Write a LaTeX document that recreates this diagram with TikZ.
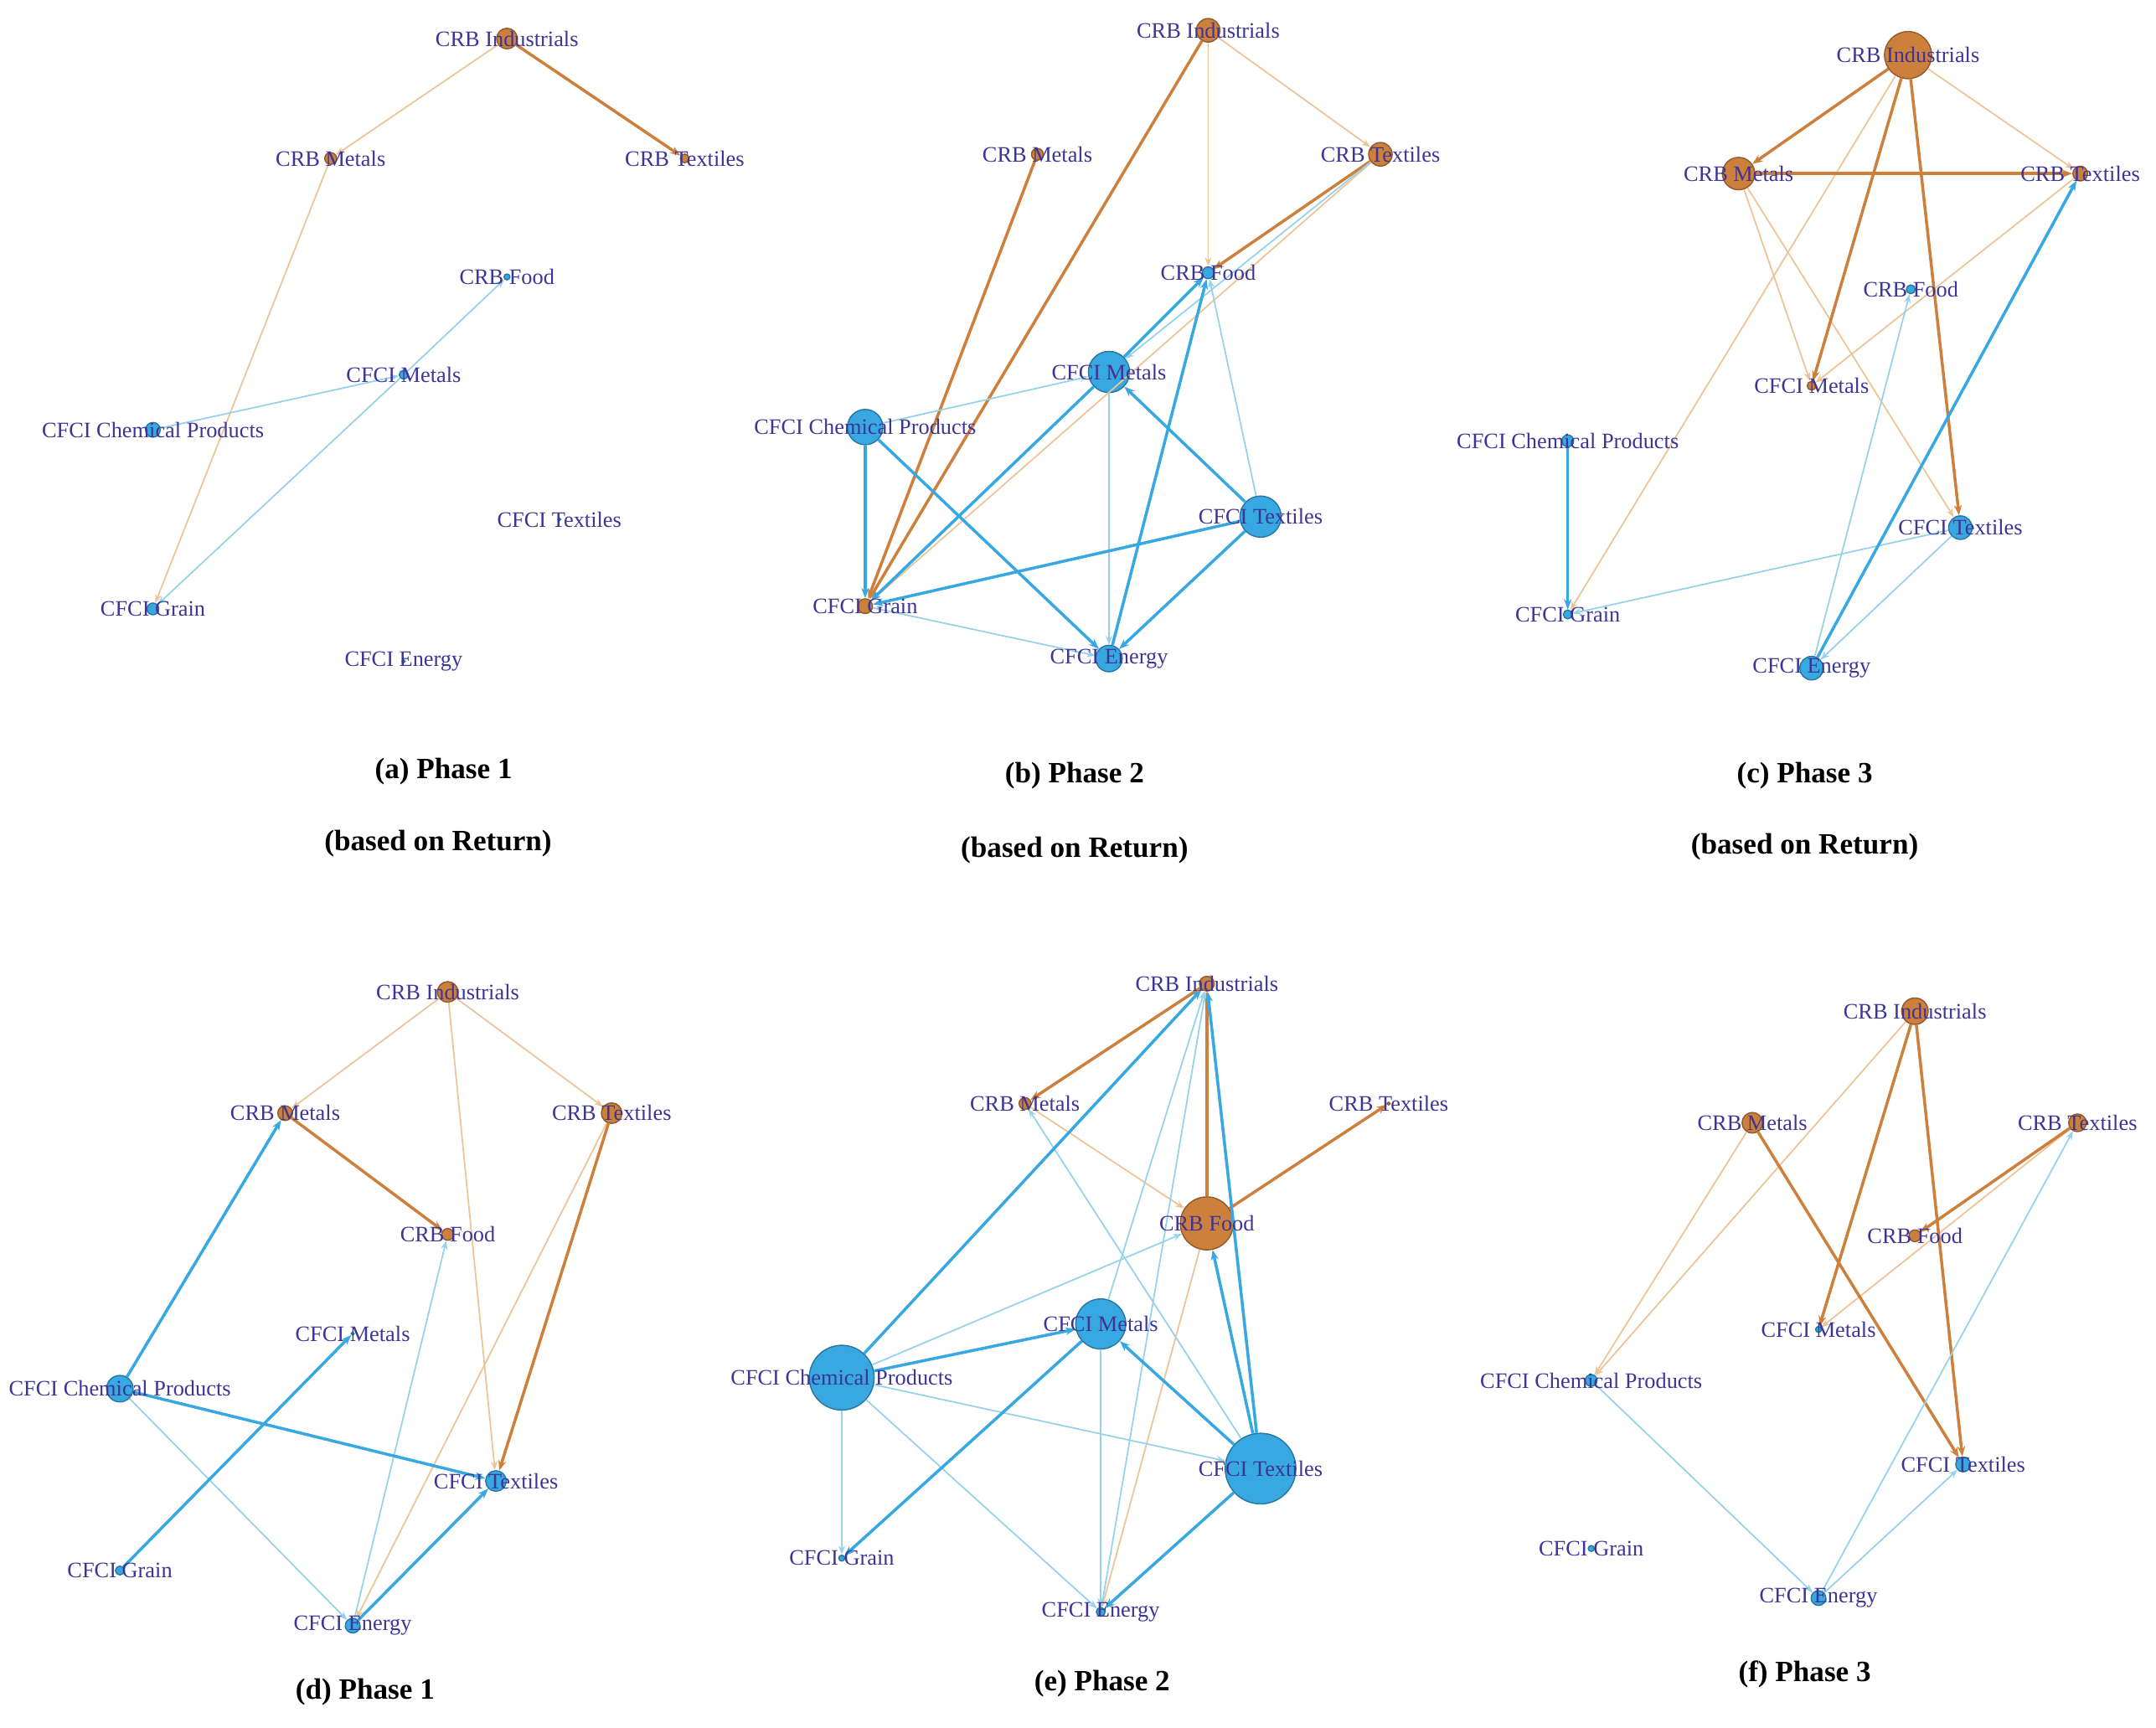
\documentclass[tikz,border=0pt]{standalone}
\usepackage{fontspec}
\setmainfont{Liberation Serif}
\usetikzlibrary{arrows.meta}
\definecolor{lab}{RGB}{62,52,150}
\definecolor{orL}{RGB}{236,196,150}
\definecolor{orD}{RGB}{205,128,60}
\definecolor{blL}{RGB}{150,210,235}
\definecolor{blD}{RGB}{55,168,225}
\tikzset{
  % node circles: orange and blue, sized by degree
  on/.style={circle,draw=orD!70!black,fill=orD,inner sep=0,minimum size=#1},
  bn/.style={circle,draw=blD!70!black,fill=blD,inner sep=0,minimum size=#1},
  lbl/.style={text=lab,font=\fontsize{7.5}{9}\selectfont,inner sep=0},
  capt/.style={font=\fontsize{10}{12}\selectfont\bfseries},
  oL/.style={draw=orL,line width=0.5pt,-{Stealth[length=3pt]}},
  oD/.style={draw=orD,line width=1pt,-{Stealth[length=3.5pt]}},
  bL/.style={draw=blL,line width=0.5pt,-{Stealth[length=3pt]}},
  bD/.style={draw=blD,line width=1pt,-{Stealth[length=3.5pt]}}
}
\newcommand\labels[1]{%
  \node[lbl] at (#1Ind) {CRB Industrials};
  \node[lbl] at (#1Met) {CRB Metals};
  \node[lbl] at (#1Tex) {CRB Textiles};
  \node[lbl] at (#1Food) {CRB Food};
  \node[lbl] at (#1CMet) {CFCI Metals};
  \node[lbl] at (#1Chem) {CFCI Chemical Products};
  \node[lbl] at (#1CTex) {CFCI Textiles};
  \node[lbl] at (#1Grain) {CFCI Grain};
  \node[lbl] at (#1Ener) {CFCI Energy};}
\begin{document}
\begin{tikzpicture}[x=0.016447cm,y=-0.016447cm]
  \useasboundingbox (0,0) rectangle (1565,1254);
  % (a) Phase 1, return
  \node[on=7pt] (aInd) at (368,28) {};
  \node[on=4pt] (aMet) at (240,115) {};
  \node[on=3pt] (aTex) at (497,115) {};
  \node[bn=2pt] (aFood) at (368,201) {};
  \node[bn=3pt] (aCMet) at (293,272) {};
  \node[bn=5pt] (aChem) at (111,312) {};
  \node[bn=1pt] (aCTex) at (406,377) {};
  \node[bn=4pt] (aGrain) at (111,442) {};
  \node[bn=1pt] (aEner) at (293,480) {};
  \draw[oL] (aInd) -- (aMet);
  \draw[oD] (aInd) -- (aTex);
  \draw[oL] (aMet) -- (aGrain);
  \foreach \s/\t in {aChem/aCMet,aCMet/aFood,aCMet/aGrain} \draw[bL] (\s) -- (\t);
  \labels{a}
  % (b) Phase 2, return
  \node[on=8pt] (bInd) at (877,22) {};
  \node[on=4pt] (bMet) at (753,112) {};
  \node[on=8pt] (bTex) at (1002,112) {};
  \node[bn=4pt] (bFood) at (877,198) {};
  \node[bn=14pt] (bCMet) at (805,270) {};
  \node[bn=12pt] (bChem) at (628,310) {};
  \node[bn=14pt] (bCTex) at (915,375) {};
  \node[on=5pt] (bGrain) at (628,440) {};
  \node[bn=9pt] (bEner) at (805,478) {};
  \foreach \s/\t in {bInd/bFood,bInd/bTex,bTex/bGrain} \draw[oL] (\s) -- (\t);
  \foreach \s/\t in {bInd/bGrain,bMet/bGrain,bTex/bFood} \draw[oD] (\s) -- (\t);
  \foreach \s/\t in {bCTex/bFood,bChem/bCMet,bCMet/bEner,bGrain/bEner,bTex/bCMet} \draw[bL] (\s) -- (\t);
  \foreach \s/\t in {bEner/bFood,bChem/bGrain,bChem/bEner,bCMet/bGrain,bCTex/bCMet,bCTex/bGrain,bCTex/bEner,bCMet/bFood} \draw[bD] (\s) -- (\t);
  \labels{b}
  % (c) Phase 3, return
  \node[on=16pt] (cInd) at (1385,40) {};
  \node[on=11pt] (cMet) at (1262,126) {};
  \node[on=5pt] (cTex) at (1510,126) {};
  \node[bn=3pt] (cFood) at (1387,210) {};
  \node[on=3pt] (cCMet) at (1315,280) {};
  \node[bn=4pt] (cChem) at (1138,320) {};
  \node[bn=8pt] (cCTex) at (1423,383) {};
  \node[bn=3pt] (cGrain) at (1138,446) {};
  \node[bn=8pt] (cEner) at (1315,485) {};
  \foreach \s/\t in {cInd/cTex,cInd/cGrain,cMet/cCMet,cMet/cCTex,cTex/cCMet} \draw[oL] (\s) -- (\t);
  \foreach \s/\t in {cInd/cMet,cInd/cCMet,cInd/cCTex,cMet/cTex} \draw[oD] (\s) -- (\t);
  \foreach \s/\t in {cCTex/cGrain,cEner/cFood,cCTex/cEner} \draw[bL] (\s) -- (\t);
  \foreach \s/\t in {cChem/cGrain,cEner/cTex} \draw[bD] (\s) -- (\t);
  \labels{c}
  % captions of first row
  \node[capt] (capA) at (322,560) {(a) Phase 1};
  \node[capt] at (318,612) {(based on Return)};
  \node[capt] (capB) at (780,563) {(b) Phase 2};
  \node[capt] at (780,617) {(based on Return)};
  \node[capt] (capC) at (1310,563) {(c) Phase 3};
  \node[capt] at (1310,615) {(based on Return)};
  % (d) Phase 1
  \node[on=7pt] (dInd) at (325,720) {};
  \node[on=5pt] (dMet) at (207,808) {};
  \node[on=7pt] (dTex) at (444,808) {};
  \node[on=4pt] (dFood) at (325,896) {};
  \node[bn=1pt] (dCMet) at (256,968) {};
  \node[bn=9pt] (dChem) at (87,1008) {};
  \node[bn=7pt] (dCTex) at (360,1075) {};
  \node[bn=3pt] (dGrain) at (87,1140) {};
  \node[bn=5pt] (dEner) at (256,1180) {};
  \foreach \s/\t in {dInd/dMet,dInd/dTex,dInd/dCTex,dTex/dEner} \draw[oL] (\s) -- (\t);
  \foreach \s/\t in {dMet/dFood,dTex/dCTex} \draw[oD] (\s) -- (\t);
  \foreach \s/\t in {dChem/dEner,dEner/dFood} \draw[bL] (\s) -- (\t);
  \foreach \s/\t in {dChem/dMet,dChem/dCTex,dGrain/dCMet,dEner/dCTex} \draw[bD] (\s) -- (\t);
  \labels{d}
  % (e) Phase 2
  \node[on=5pt] (eInd) at (876,714) {};
  \node[on=4pt] (eMet) at (744,801) {};
  \node[on=1pt] (eTex) at (1008,801) {};
  \node[on=18pt] (eFood) at (876,888) {};
  \node[bn=17pt] (eCMet) at (799,961) {};
  \node[bn=22pt] (eChem) at (611,1000) {};
  \node[bn=24pt] (eCTex) at (915,1066) {};
  \node[bn=2pt] (eGrain) at (611,1131) {};
  \node[bn=3pt] (eEner) at (799,1170) {};
  \foreach \s/\t in {eMet/eFood,eFood/eEner} \draw[oL] (\s) -- (\t);
  \foreach \s/\t in {eFood/eInd,eInd/eMet,eFood/eTex} \draw[oD] (\s) -- (\t);
  \foreach \s/\t in {eChem/eFood,eChem/eGrain,eChem/eCTex,eChem/eEner,eCTex/eMet,eEner/eInd,eCMet/eEner,eCMet/eInd} \draw[bL] (\s) -- (\t);
  \foreach \s/\t in {eChem/eInd,eChem/eCMet,eCMet/eGrain,eCTex/eInd,eCTex/eFood,eCTex/eCMet,eCTex/eEner} \draw[bD] (\s) -- (\t);
  \labels{e}
  % (f) Phase 3
  \node[on=9pt] (fInd) at (1390,734) {};
  \node[on=7pt] (fMet) at (1272,815) {};
  \node[on=6pt] (fTex) at (1508,815) {};
  \node[on=4pt] (fFood) at (1390,897) {};
  \node[bn=2pt] (fCMet) at (1320,965) {};
  \node[bn=4pt] (fChem) at (1155,1002) {};
  \node[bn=5pt] (fCTex) at (1425,1063) {};
  \node[bn=2pt] (fGrain) at (1155,1124) {};
  \node[bn=5pt] (fEner) at (1320,1160) {};
  \foreach \s/\t in {fInd/fChem,fMet/fChem,fTex/fCMet} \draw[oL] (\s) -- (\t);
  \foreach \s/\t in {fInd/fCMet,fInd/fCTex,fMet/fCTex,fTex/fFood} \draw[oD] (\s) -- (\t);
  \foreach \s/\t in {fChem/fEner,fEner/fTex,fEner/fCTex} \draw[bL] (\s) -- (\t);
  \labels{f}
  % captions of second row
  \node[capt] (capD) at (265,1228) {(d) Phase 1};
  \node[capt] (capE) at (800,1222) {(e) Phase 2};
  \node[capt] (capF) at (1310,1215) {(f) Phase 3};
\end{tikzpicture}
\end{document}
